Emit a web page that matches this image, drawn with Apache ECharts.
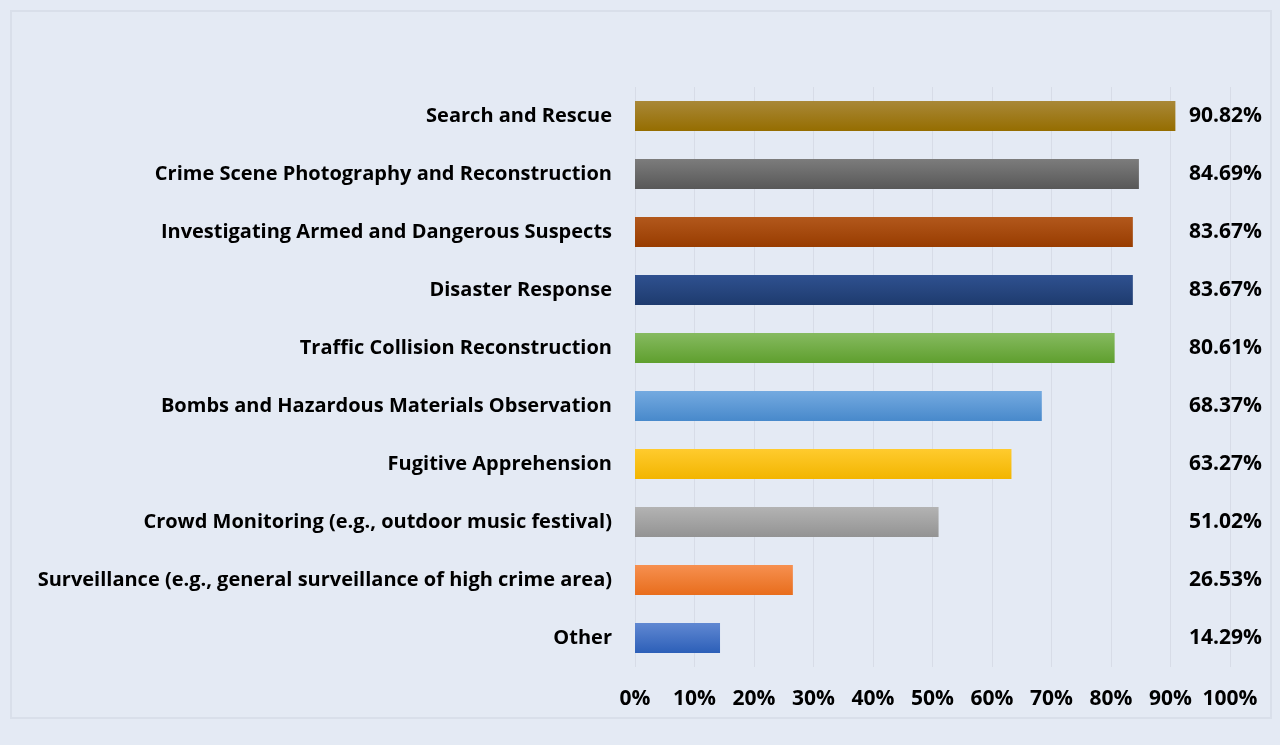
<!DOCTYPE html>
<html>
<head>
<meta charset="utf-8">
<script src="https://cdn.jsdelivr.net/npm/echarts@6/dist/echarts.min.js"></script>
<style>
html,body{margin:0;padding:0;background:#e4eaf4;}
#frame{position:absolute;left:10px;top:10px;width:1258px;height:705px;border:2px solid #d9dfea;box-sizing:content-box;}
#chart{position:absolute;left:0;top:0;width:1280px;height:745px;}
</style>
</head>
<body>
<div id="frame"></div>
<div id="chart"></div>
<script>
const categories = [
  "Search and Rescue",
  "Crime Scene Photography and Reconstruction",
  "Investigating Armed and Dangerous Suspects",
  "Disaster Response",
  "Traffic Collision Reconstruction",
  "Bombs and Hazardous Materials Observation",
  "Fugitive Apprehension",
  "Crowd Monitoring (e.g., outdoor music festival)",
  "Surveillance (e.g., general surveillance of high crime area)",
  "Other"
];
const values = [90.82, 84.69, 83.67, 83.67, 80.61, 68.37, 63.27, 51.02, 26.53, 14.29];
const xTicks = [0, 10, 20, 30, 40, 50, 60, 70, 80, 90, 100];
const barColors = [
  ["#a98838", "#956d00"],
  ["#7c7c7c", "#585858"],
  ["#b2581c", "#983c00"],
  ["#2f5190", "#1e3b6e"],
  ["#86ba60", "#5f9f2e"],
  ["#74aae0", "#4889cb"],
  ["#ffcb2e", "#f2b500"],
  ["#b3b3b3", "#939393"],
  ["#f69050", "#e86d1c"],
  ["#6088d2", "#2c5fb8"]
];

const FONT = "'Open Sans', Lato, sans-serif";
const chart = echarts.init(document.getElementById('chart'), null, {renderer: 'canvas'});
chart.setOption({
  backgroundColor: 'transparent',
  animation: false,
  grid: {left: 635, right: 50, top: 87, bottom: 78, containLabel: false},
  xAxis: {
    type: 'value', min: 0, max: 100, interval: 10,
    axisLine: {show: false}, axisTick: {show: false},
    splitLine: {show: true, lineStyle: {color: '#d7dce7', width: 1}},
    axisLabel: {
      margin: 22, color: '#000', fontFamily: FONT, fontWeight: 'bold', fontSize: 21,
      formatter: v => xTicks.includes(v) ? v + '%' : ''
    }
  },
  yAxis: [{
    type: 'category', data: categories, inverse: true,
    axisLine: {show: false}, axisTick: {show: false},
    axisLabel: {margin: 23, color: '#000', fontFamily: FONT, fontWeight: 'bold', fontSize: 20, padding: [4, 0, 0, 0]}
  }, {
    type: 'category', data: values.map(v => v.toFixed(2) + '%'), inverse: true, position: 'right',
    axisLine: {show: false}, axisTick: {show: false},
    axisLabel: {margin: 32, align: 'right', color: '#000', fontFamily: FONT, fontWeight: 'bold', fontSize: 21, padding: [4, 0, 0, 0]}
  }],
  series: [{
    type: 'bar', barWidth: 30,
    data: values.map((v, i) => ({
      value: v,
      itemStyle: {color: new echarts.graphic.LinearGradient(0, 0, 0, 1, [
        {offset: 0, color: barColors[i][0]}, {offset: 1, color: barColors[i][1]}
      ])}
    }))
  }]
});
</script>
</body>
</html>
